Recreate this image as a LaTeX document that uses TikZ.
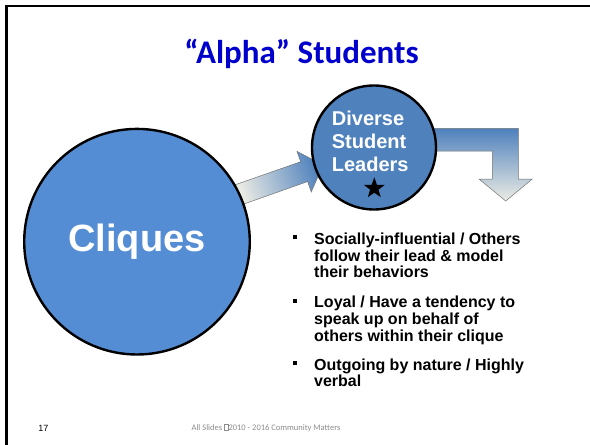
\documentclass[tikz,border=0pt]{standalone}
\usepackage{fontspec}
\setmainfont{Liberation Sans}
\newfontfamily\califont{Carlito}
\usetikzlibrary{shapes.geometric,positioning}
\definecolor{cliqueblue}{RGB}{84,141,212}
\definecolor{leaderblue}{RGB}{79,129,189}
\definecolor{titleblue}{RGB}{0,0,204}
\definecolor{pale}{RGB}{236,236,228}
\tikzset{bubble/.style={circle,draw=black,line width=2.4pt,inner sep=0pt}}
\tikzset{blockarrow/.style={draw=black!55,line width=0.5pt}}
\tikzset{point/.style={anchor=base west,align=left,inner sep=0pt,font=\bfseries\fontsize{16}{16.7}\selectfont}}
\newcommand{\sqbullet}{\llap{\raisebox{5pt}{\rule{4pt}{4pt}}\hspace{17pt}}}
\newcommand{\missingglyph}{{\fboxsep=0pt\fboxrule=0.3pt\fbox{\vphantom{0}\hspace{0.45em}}}}

\begin{document}
\begin{tikzpicture}[x=1pt,y=-1pt]
		\useasboundingbox (0,0) rectangle (590,445);
		\draw[line width=2.3pt] (590,6) -- (6.5,6) -- (6.5,445);
		\node[font=\califont\bfseries\fontsize{33}{33}\selectfont,text=titleblue,anchor=base] (title) at (301.5,63.3) {“Alpha” Students};
		% arrows go under the bubbles
		\begin{scope}[shift={(323,165)},rotate=19.4]
			\coordinate (tip) at (0,0);
			\coordinate (wa) at (-20,-21.5);
			\coordinate (sa) at (-20,-10.5);
			\coordinate (ta) at (-92,-10.5);
			\coordinate (tb) at (-92,10.5);
			\coordinate (sb) at (-20,10.5);
			\coordinate (wb) at (-20,21.5);
		\end{scope}
		\draw[blockarrow,bottom color=pale,top color=leaderblue,shading angle=-70.6] (ta) -- (sa) -- (wa) -- (tip) -- (wb) -- (sb) -- (tb) -- cycle;
		\draw[blockarrow,top color=leaderblue,bottom color=pale] (400,128.3) -- (518.3,128.3) -- (518.3,179) -- (532.3,179) -- (505.7,201) -- (479,179) -- (492.3,179) -- (492.3,151) -- (400,151) -- cycle;
		\node[bubble,fill=cliqueblue,minimum size=225.6pt,text=white,font=\bfseries\fontsize{38}{38}\selectfont] (cliques) at (137,241.7) {Cliques};
		\node[bubble,fill=leaderblue,minimum size=124pt] (leaders) at (374,147.5) {};
		% multi-line nodes: base = last line
		\node[anchor=base west,align=left,inner sep=0pt,text=white,font=\bfseries\fontsize{20}{23}\selectfont] (leadtext) at (331.7,171.7) {Diverse\\Student\\Leaders};
		\node[star,star points=5,star point ratio=2.5,fill=black,minimum size=22pt,inner sep=0pt] (star) at (374.3,188.3) {};
		\node[point] (p1) at (314,277.7) {\sqbullet Socially-influential / Others\\follow their lead \& model\\their behaviors};
		\node[point] (p2) at (314,341) {\sqbullet Loyal / Have a tendency to\\speak up on behalf of\\others within their clique};
		\node[point] (p3) at (314,386.7) {\sqbullet Outgoing by nature / Highly\\verbal};
		\node[font=\fontsize{9}{9}\selectfont] (pagenum) at (43.5,428) {17};
		\node[font=\califont\fontsize{8.5}{8.5}\selectfont,text=black!45] (footer) at (266,428) {All Slides \missingglyph2010 - 2016 Community Matters};
\end{tikzpicture}
\end{document}
